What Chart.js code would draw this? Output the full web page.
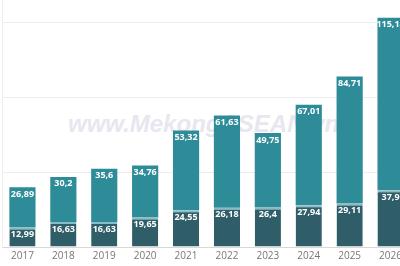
<!DOCTYPE html>
<html>
<head>
<meta charset="utf-8">
<script src="https://cdn.jsdelivr.net/npm/chart.js@4/dist/chart.umd.min.js"></script>
<style>
  body { margin: 0; background: #fff; overflow: hidden; }
  #wrap { position: relative; width: 411px; height: 266px; }
  #mark {
    position: absolute; left: 68px; top: 110px;
    font: italic bold 24px "Liberation Sans", Arial, sans-serif;
    color: #e7e7f0; white-space: nowrap;
  }
  canvas { position: absolute; left: 0; top: 0; }
</style>
</head>
<body>
<div id="wrap">
  <div id="mark">www.MekongASEAN.vn</div>
  <canvas id="chart" width="411" height="266"></canvas>
</div>
<script>
const years = ["2017", "2018", "2019", "2020", "2021", "2022", "2023", "2024", "2025", "2026"];
const lower = [12.99, 16.63, 16.63, 19.65, 24.55, 26.18, 26.4, 27.94, 29.11, 37.9];
const upper = [26.89, 30.2, 35.6, 34.76, 53.32, 61.63, 49.75, 67.01, 84.71, 115.18];

// writes the value at the top of every bar segment
const barLabels = {
    id: "barLabels",
    afterDatasetsDraw(chart) {
        const ctx = chart.ctx;
        ctx.save();
        ctx.font = "bold 9px 'Open Sans', sans-serif";
        ctx.fillStyle = "#ffffff";
        ctx.textAlign = "center";
        ctx.textBaseline = "middle";
        chart.data.datasets.forEach((ds, i) => {
            chart.getDatasetMeta(i).data.forEach((bar, j) => {
                const txt = String(ds.data[j]).replace(".", ",");
                ctx.fillText(txt, bar.x, bar.y + 7);
            });
        });
        ctx.restore();
    }
};

const ctx = document.getElementById("chart").getContext("2d");
new Chart(ctx, {
    type: "bar",
    data: {
        labels: years,
        datasets: [{
            data: lower,
            backgroundColor: "#2f5d68",
            borderColor: "#86bcc4",
            borderWidth: {top: 2},
            borderSkipped: false,
            barPercentage: 0.8,
            categoryPercentage: 0.8
        }, {
            data: upper,
            backgroundColor: "#2e8c99",
            barPercentage: 0.8,
            categoryPercentage: 0.8
        }]
    },
    options: {
        responsive: false,
        animation: false,
        devicePixelRatio: 1,
        layout: {padding: {left: 2, top: 0, right: 0, bottom: 1}},
        plugins: {legend: {display: false}, tooltip: {enabled: false}},
        scales: {
            x: {
                stacked: true,
                grid: {display: false, drawTicks: false},
                border: {color: "#d8d8d8"},
                ticks: {color: "#777", font: {size: 10, family: "'Open Sans', sans-serif"}, padding: 3}
            },
            y: {
                stacked: true,
                min: 0,
                max: 165,
                ticks: {display: false, stepSize: 50},
                grid: {
                    drawTicks: false,
                    color: c => (c.tick && c.tick.value % 50 === 0) ? "#ececec" : "rgba(0,0,0,0)"
                },
                border: {color: "#efefef"}
            }
        }
    },
    plugins: [barLabels]
});
</script>
</body>
</html>
